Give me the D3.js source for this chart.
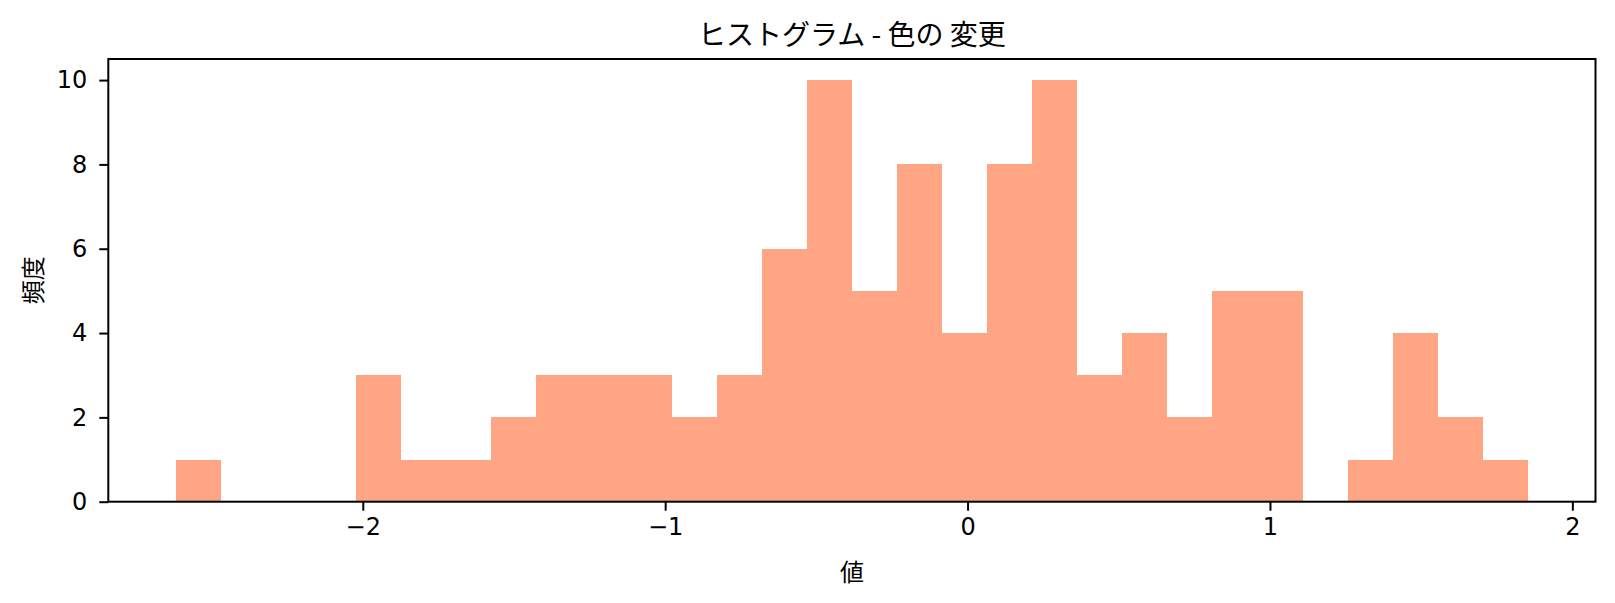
<!DOCTYPE html>
<html>
<head>
<meta charset="utf-8">
<script src="https://cdn.jsdelivr.net/npm/d3@7"></script>
<style>
html, body { margin: 0; padding: 0; background: #fff; }
svg { display: block; }
</style>
</head>
<body>
<script>
// ---- data ----
const binStart = -2.618;
const binEnd = 1.853;
const counts = [1, 0, 0, 0, 3, 1, 1, 2, 3, 3, 3, 2, 3, 6, 10, 5, 8, 4, 8, 10, 3, 4, 2, 5, 5, 0, 1, 4, 2, 1];
const xTicks = [-2, -1, 0, 1, 2];
const yTicks = [0, 2, 4, 6, 8, 10];
const titleText = "ヒストグラム - 色の 変更";
const xLabelText = "値";
const yLabelText = "頻度";
const barColor = "coral";
const barOpacity = 0.7;

// ---- layout ----
const W = 1615, H = 603;
const L = 108.3, R = 1595.5, T = 59, B = 501.7;

const nb = counts.length;
const bw = (binEnd - binStart) / nb;
const edges = d3.range(nb + 1).map(i => binStart + i * bw);
const span = binEnd - binStart;
const pad = span * 0.05;

const x = d3.scaleLinear().domain([binStart - pad, binEnd + pad]).range([L, R]);
const y = d3.scaleLinear().domain([0, 10.5]).range([B, T]);

const svg = d3.select("body").append("svg").attr("width", W).attr("height", H);
svg.append("rect").attr("width", W).attr("height", H).attr("fill", "#fff");

const fontTick = "'DejaVu Sans', sans-serif";
const fontCJK = "'Noto Sans CJK JP', 'DejaVu Sans', sans-serif";

// bars
svg.append("g").selectAll("rect")
  .data(counts.map((c, i) => ({ c, x0: edges[i], x1: edges[i + 1] })).filter(d => d.c > 0))
  .join("rect")
  .attr("x", d => x(d.x0))
  .attr("width", d => x(d.x1) - x(d.x0))
  .attr("y", d => y(d.c))
  .attr("height", d => y(0) - y(d.c))
  .attr("fill", barColor)
  .attr("fill-opacity", barOpacity)
  .attr("shape-rendering", "crispEdges");

// axes
const xAxis = d3.axisBottom(x).tickValues(xTicks).tickSize(9).tickPadding(7)
  .tickFormat(d => d < 0 ? "\u2212" + Math.abs(d) : String(d));
const gx = svg.append("g").attr("transform", `translate(0,${B})`).call(xAxis);
gx.select(".domain").remove();
gx.selectAll(".tick line").attr("stroke", "#000").attr("stroke-width", 2);
gx.selectAll(".tick text").attr("fill", "#000").attr("font-family", fontTick).attr("font-size", 24);

const yAxis = d3.axisLeft(y).tickValues(yTicks).tickSize(9).tickPadding(12);
const gy = svg.append("g").attr("transform", `translate(${L},0)`).call(yAxis);
gy.select(".domain").remove();
gy.selectAll(".tick line").attr("stroke", "#000").attr("stroke-width", 2);
gy.selectAll(".tick text").attr("fill", "#000").attr("font-family", fontTick).attr("font-size", 24);

// spines
svg.append("rect")
  .attr("x", L).attr("y", T).attr("width", R - L).attr("height", B - T)
  .attr("fill", "none").attr("stroke", "#000").attr("stroke-width", 2);

// title and labels
svg.append("text")
  .attr("x", (L + R) / 2).attr("y", 45)
  .attr("text-anchor", "middle")
  .attr("font-family", fontCJK).attr("font-size", 28)
  .attr("fill", "#000")
  .text(titleText);

svg.append("text")
  .attr("x", (L + R) / 2).attr("y", 581)
  .attr("text-anchor", "middle")
  .attr("font-family", fontCJK).attr("font-size", 24)
  .attr("fill", "#000")
  .text(xLabelText);

svg.append("text")
  .attr("transform", `translate(42,${(T + B) / 2}) rotate(-90)`)
  .attr("text-anchor", "middle")
  .attr("font-family", fontCJK).attr("font-size", 24)
  .attr("fill", "#000")
  .text(yLabelText);
</script>
</body>
</html>
